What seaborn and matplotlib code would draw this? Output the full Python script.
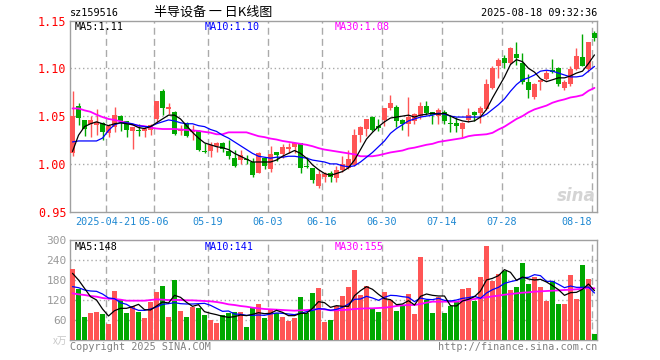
import numpy as np
import pandas as pd
import matplotlib
matplotlib.use("Agg")
import matplotlib.pyplot as plt
import seaborn as sns

# ---------------- data ----------------
holidays = ["2025-05-01", "2025-05-02", "2025-05-05", "2025-06-02"]
dates = pd.bdate_range("2025-04-11", "2025-08-18", freq="C", holidays=holidays)

opens = [1.011, 1.061, 1.046, 1.042, 1.041, 1.043, 1.032, 1.039, 1.050, 1.045,
         1.034, 1.035, 1.034, 1.035, 1.047, 1.076, 1.057, 1.054, 1.034, 1.043,
         1.033, 1.034, 1.014, 1.013, 1.019, 1.022, 1.014, 1.006, 1.004, 1.005,
         1.002, 0.991, 1.006, 0.995, 1.012, 1.010, 1.016, 1.018, 1.022, 0.9975,
         0.996, 0.977, 0.986, 0.991, 0.985, 0.994, 0.996, 0.999, 1.030, 1.036,
         1.049, 1.040, 1.046, 1.058, 1.059, 1.046, 1.042, 1.045, 1.050, 1.061,
         1.054, 1.050, 1.054, 1.043, 1.043, 1.037, 1.046, 1.054, 1.053, 1.057,
         1.079, 1.102, 1.111, 1.106, 1.115, 1.106, 1.086, 1.070, 1.086, 1.089,
         1.098, 1.100, 1.079, 1.084, 1.099, 1.112, 1.099, 1.137]
highs = [1.076, 1.064, 1.046, 1.050, 1.057, 1.044, 1.042, 1.060, 1.051, 1.045,
         1.039, 1.042, 1.040, 1.042, 1.066, 1.078, 1.064, 1.055, 1.041, 1.044,
         1.041, 1.035, 1.022, 1.023, 1.023, 1.023, 1.025, 1.015, 1.015, 1.009,
         1.006, 1.012, 1.007, 1.019, 1.012, 1.021, 1.022, 1.022, 1.022, 1.007,
         0.996, 0.994, 0.992, 0.993, 0.998, 1.008, 1.015, 1.036, 1.040, 1.047,
         1.050, 1.047, 1.058, 1.072, 1.062, 1.047, 1.070, 1.053, 1.065, 1.066,
         1.054, 1.058, 1.056, 1.051, 1.049, 1.044, 1.058, 1.055, 1.061, 1.089,
         1.102, 1.111, 1.114, 1.122, 1.128, 1.116, 1.094, 1.085, 1.088, 1.098,
         1.110, 1.101, 1.088, 1.102, 1.121, 1.136, 1.128, 1.139]
lows = [1.008, 1.041, 1.029, 1.028, 1.030, 1.025, 1.028, 1.033, 1.034, 1.028,
        1.016, 1.029, 1.028, 1.030, 1.044, 1.051, 1.052, 1.030, 1.030, 1.028,
        1.025, 1.014, 1.011, 1.007, 1.012, 1.012, 1.005, 0.997, 1.000, 1.000,
        0.986, 0.990, 0.995, 0.992, 1.003, 1.006, 1.011, 1.011, 0.991, 0.996,
        0.980, 0.975, 0.981, 0.981, 0.981, 0.992, 0.995, 0.998, 1.023, 1.029,
        1.034, 1.034, 1.040, 1.056, 1.039, 1.035, 1.029, 1.042, 1.047, 1.051,
        1.042, 1.042, 1.042, 1.033, 1.033, 1.028, 1.044, 1.045, 1.043, 1.056,
        1.078, 1.090, 1.100, 1.105, 1.103, 1.084, 1.069, 1.068, 1.077, 1.088,
        1.095, 1.082, 1.077, 1.082, 1.098, 1.102, 1.096, 1.129]
closes = [1.050, 1.048, 1.037, 1.046, 1.044, 1.033, 1.040, 1.051, 1.045, 1.035,
          1.039, 1.034, 1.037, 1.041, 1.066, 1.058, 1.059, 1.031, 1.036, 1.029,
          1.035, 1.015, 1.012, 1.020, 1.022, 1.016, 1.008, 0.998, 1.009, 1.004,
          0.988, 1.011, 0.998, 1.010, 1.009, 1.018, 1.018, 1.022, 0.996, 0.9965,
          0.983, 0.989, 0.989, 0.986, 0.994, 1.000, 1.005, 1.030, 1.039, 1.047,
          1.035, 1.038, 1.058, 1.064, 1.045, 1.042, 1.049, 1.052, 1.061, 1.053,
          1.051, 1.056, 1.045, 1.042, 1.040, 1.043, 1.051, 1.051, 1.058, 1.084,
          1.100, 1.109, 1.106, 1.121, 1.111, 1.086, 1.077, 1.084, 1.088, 1.095,
          1.096, 1.084, 1.086, 1.099, 1.113, 1.102, 1.127, 1.132]

ma5 = [1.013, 1.030, 1.039, 1.042, 1.044, 1.042, 1.040, 1.042, 1.043, 1.042,
       1.041, 1.038, 1.037, 1.039, 1.043, 1.047, 1.051, 1.051, 1.047, 1.040,
       1.033, 1.027, 1.022, 1.020, 1.018, 1.017, 1.015, 1.011, 1.008, 1.005,
       1.002, 1.002, 1.002, 1.002, 1.004, 1.008, 1.011, 1.014, 1.011, 1.006,
       0.999, 0.994, 0.990, 0.988, 0.990, 0.992, 0.996, 1.004, 1.015, 1.026,
       1.033, 1.039, 1.044, 1.048, 1.049, 1.050, 1.051, 1.049, 1.051, 1.052,
       1.053, 1.052, 1.053, 1.050, 1.047, 1.045, 1.044, 1.045, 1.049, 1.057,
       1.069, 1.080, 1.091, 1.104, 1.109, 1.107, 1.100, 1.096, 1.089, 1.086,
       1.088, 1.090, 1.090, 1.092, 1.095, 1.097, 1.105, 1.114]
ma10 = [1.023, 1.024, 1.024, 1.024, 1.024, 1.027, 1.035, 1.041, 1.043, 1.043,
        1.042, 1.040, 1.039, 1.039, 1.042, 1.044, 1.046, 1.045, 1.043, 1.042,
        1.042, 1.040, 1.039, 1.036, 1.034, 1.030, 1.027, 1.023, 1.019, 1.015,
        1.011, 1.008, 1.007, 1.006, 1.007, 1.007, 1.008, 1.008, 1.007, 1.006,
        1.004, 1.003, 1.002, 1.000, 1.000, 0.998, 0.997, 0.998, 1.002, 1.007,
        1.012, 1.018, 1.024, 1.032, 1.037, 1.041, 1.045, 1.047, 1.049, 1.050,
        1.051, 1.053, 1.052, 1.050, 1.049, 1.049, 1.049, 1.049, 1.049, 1.052,
        1.057, 1.062, 1.068, 1.076, 1.083, 1.088, 1.090, 1.093, 1.097, 1.098,
        1.097, 1.095, 1.093, 1.091, 1.091, 1.092, 1.097, 1.102]
ma30 = [1.058, 1.058, 1.056, 1.0545, 1.0515, 1.049, 1.047, 1.046, 1.0445, 1.043,
        1.041, 1.040, 1.0395, 1.038, 1.037, 1.0365, 1.0365, 1.0365, 1.036, 1.0355,
        1.035, 1.0345, 1.0335, 1.0327, 1.031, 1.031, 1.033, 1.033, 1.033, 1.033,
        1.031, 1.029, 1.028, 1.0265, 1.0255, 1.024, 1.023, 1.022, 1.021, 1.020,
        1.0185, 1.0165, 1.015, 1.014, 1.013, 1.012, 1.011, 1.010, 1.008, 1.008,
        1.008, 1.009, 1.0105, 1.012, 1.013, 1.014, 1.016, 1.017, 1.0185, 1.020,
        1.021, 1.023, 1.024, 1.025, 1.026, 1.027, 1.029, 1.030, 1.0305, 1.031,
        1.0325, 1.036, 1.039, 1.043, 1.047, 1.050, 1.054, 1.057, 1.059, 1.061,
        1.064, 1.066, 1.0675, 1.0695, 1.0705, 1.072, 1.0765, 1.0795]

volume = [213, 153, 68, 81, 84, 78, 48, 147, 120, 81,
          102, 84, 66, 115, 144, 162, 69, 180, 87, 69,
          99, 96, 75, 60, 51, 75, 81, 84, 84, 39,
          96, 108, 66, 93, 81, 69, 57, 66, 129, 81,
          141, 156, 54, 60, 102, 132, 159, 210, 135, 162,
          93, 85, 144, 120, 88, 102, 138, 78, 250, 120,
          82, 128, 82, 102, 118, 153, 157, 118, 190, 282,
          178, 198, 207, 150, 160, 232, 168, 190, 160, 118,
          178, 108, 108, 196, 124, 226, 184, 18]
vol_ma5 = [200, 180, 155, 130, 120, 93, 72, 88, 95, 95,
           100, 107, 91, 90, 102, 114, 111, 134, 128, 113,
           101, 106, 85, 80, 76, 71, 68, 70, 75, 73,
           77, 82, 79, 80, 89, 83, 73, 73, 80, 80,
           95, 115, 112, 98, 103, 101, 101, 133, 148, 160,
           152, 137, 124, 121, 106, 108, 118, 105, 131, 138,
           134, 132, 132, 103, 102, 117, 122, 130, 147, 180,
           185, 193, 211, 203, 179, 189, 183, 180, 182, 174,
           163, 151, 134, 142, 143, 152, 168, 148]
vol_ma10 = [160, 157, 150, 147, 146, 138, 126, 124, 112, 107,
            96, 89, 89, 93, 99, 107, 109, 112, 109, 108,
            108, 109, 110, 104, 95, 86, 87, 78, 77, 74,
            74, 75, 74, 78, 81, 80, 78, 76, 80, 85,
            89, 94, 93, 89, 92, 98, 108, 122, 123, 131,
            126, 119, 128, 134, 133, 130, 128, 115, 126, 122,
            121, 125, 119, 117, 120, 125, 127, 131, 125, 141,
            151, 158, 170, 175, 179, 187, 188, 196, 193, 176,
            176, 167, 157, 162, 158, 158, 159, 141]
vol_ma30 = [140, 137, 135, 132, 130, 126, 124, 123, 121, 118,
            118, 118, 118, 120, 122, 121, 120, 120, 120, 119,
            119, 118, 117, 116, 114, 111, 107, 105, 102, 100,
            97, 95, 93, 92, 91, 90, 89, 88, 89, 90,
            91, 93, 92, 89, 89, 90, 91, 93, 94, 95,
            95, 96, 97, 99, 102, 104, 105, 105, 108, 112,
            115, 115, 115, 115, 115, 117, 121, 123, 126, 128,
            131, 133, 136, 138, 140, 142, 143, 145, 146, 147,
            148, 149, 150, 151, 152, 154, 156, 155]

tick_dates = ["2025-04-21", "2025-05-06", "2025-05-19", "2025-06-03", "2025-06-16",
              "2025-06-30", "2025-07-14", "2025-07-28", "2025-08-18"]
tick_labels = ["2025-04-21", "05-06", "05-19", "06-03", "06-16",
               "06-30", "07-14", "07-28", "08-18"]
price_ticks = [0.95, 1.00, 1.05, 1.10, 1.15]
vol_ticks = [60, 120, 180, 240, 300]

# ---------------- styling ----------------
UP, DOWN = "#ff5555", "#00a800"
FRAME = "#a0a0a0"
GRID = "#aaaaaa"
MONO = ["DejaVu Sans Mono", "Noto Sans CJK SC"]

sns.set_theme(style="white")
plt.rcParams["font.family"] = MONO

df = pd.DataFrame({"date": dates, "open": opens, "high": highs, "low": lows,
                   "close": closes, "ma5": ma5, "ma10": ma10, "ma30": ma30,
                   "vol": volume, "vma5": vol_ma5, "vma10": vol_ma10, "vma30": vol_ma30})
df["x"] = np.arange(len(df))
df["dir"] = np.where(df["close"] >= df["open"], "up", "down")
colors = np.where(df["dir"] == "up", UP, DOWN)

W, H = 660, 360
fig = plt.figure(figsize=(W / 100, H / 100), dpi=100)
fig.patch.set_facecolor("white")

def frac(x0, y0, x1, y1):
    return [x0 / W, 1 - y1 / H, (x1 - x0) / W, (y1 - y0) / H]

axp = fig.add_axes(frac(70, 20.5, 597, 211.7))
axv = fig.add_axes(frac(70, 240, 597, 340))

grid_pos = [dates.get_loc(pd.Timestamp(d)) - 0.42 for d in tick_dates]
xlim = (-0.42, len(df) - 0.58)

# --- candles ---
body_lo = np.minimum(df["open"], df["close"])
body_h = np.maximum(np.abs(df["close"] - df["open"]), 0.0009)
axp.vlines(df["x"], df["low"], df["high"], colors=colors, lw=1.0, zorder=2)
axp.bar(df["x"], body_h, bottom=body_lo, width=0.8, color=colors, lw=0, zorder=3)

sns.lineplot(data=df, x="x", y="ma30", ax=axp, color="#ff00ff", lw=1.3, zorder=4)
sns.lineplot(data=df, x="x", y="ma10", ax=axp, color="#0000ff", lw=0.9, zorder=5)
sns.lineplot(data=df, x="x", y="ma5", ax=axp, color="black", lw=0.9, zorder=6)

axp.set_xlim(*xlim)
axp.set_ylim(0.95, 1.15)

# --- volume ---
sns.barplot(data=df, x="x", y="vol", hue="dir", palette={"up": UP, "down": DOWN},
            native_scale=True, width=0.8, dodge=False, saturation=1, legend=False,
            errorbar=None, ax=axv, zorder=3, linewidth=0)
sns.lineplot(data=df, x="x", y="vma30", ax=axv, color="#ff00ff", lw=1.3, zorder=4)
sns.lineplot(data=df, x="x", y="vma10", ax=axv, color="#0000ff", lw=0.9, zorder=5)
sns.lineplot(data=df, x="x", y="vma5", ax=axv, color="black", lw=0.9, zorder=6)
axv.set_xlim(*xlim)
axv.set_ylim(0, 300)

for ax in (axp, axv):
    ax.set_xlabel("")
    ax.set_ylabel("")
    for s in ax.spines.values():
        s.set_color(FRAME)
        s.set_linewidth(1.0)
        s.set_visible(True)
    ax.set_facecolor("white")
    for gx in grid_pos:
        ax.axvline(gx, color=GRID, lw=1.0, ls=(0, (5, 3)), zorder=1)

for y in price_ticks[1:-1]:
    axp.axhline(y, color=GRID, lw=1.0, ls=(0, (1, 2)), zorder=1)
for y in vol_ticks[:-1]:
    axv.axhline(y, color=GRID, lw=1.0, ls=(0, (1, 2)), zorder=1)

axp.set_yticks(price_ticks)
axp.set_yticklabels([f"{v:.2f}" for v in price_ticks])
axp.tick_params(axis="y", length=0, pad=2.5, labelcolor="#ff0000", labelsize=8.5)
axp.set_xticks(grid_pos)
axp.set_xticklabels(tick_labels)
axp.tick_params(axis="x", length=0, pad=3.5, labelcolor="#1e88d2", labelsize=7.3)
lbls = axp.get_xticklabels()
lbls[-1].set_ha("right")

axv.set_yticks(vol_ticks)
axv.set_yticklabels([str(v) for v in vol_ticks])
axv.tick_params(axis="y", length=0, pad=2.5, labelcolor="#999999", labelsize=8.0)
axv.set_xticks([])

# --- texts ---
def ftext(x, y, s, **kw):
    fig.text(x / W, 1 - y / H, s, va="center", **kw)

ftext(70, 12.5, "sz159516", ha="left", fontsize=7.3, color="black")
ftext(213, 12.5, "半导设备 一 日K线图", ha="center", fontsize=9.4, color="black",
      family=["Noto Sans CJK SC", "DejaVu Sans"])
ftext(597, 12.5, "2025-08-18 09:32:36", ha="right", fontsize=7.3, color="black")

ftext(75, 27, f"MA5:{ma5[-1]:.2f}", ha="left", fontsize=7.3, color="black")
ftext(205, 27, f"MA10:{ma10[-1]:.2f}", ha="left", fontsize=7.3, color="#0000ff")
ftext(335, 27, f"MA30:{ma30[-1]:.2f}", ha="left", fontsize=7.3, color="#ff00ff")

ftext(75, 247, f"MA5:{vol_ma5[-1]}", ha="left", fontsize=7.3, color="black")
ftext(205, 247, f"MA10:{vol_ma10[-1]}", ha="left", fontsize=7.3, color="#0000ff")
ftext(335, 247, f"MA30:{vol_ma30[-1]}", ha="left", fontsize=7.3, color="#ff00ff")

ftext(67, 341, "x万", ha="right", fontsize=7.0, color="#c8c8c8",
      family=["Noto Sans CJK SC", "DejaVu Sans"])
ftext(70, 347, "Copyright 2025 SINA.COM", ha="left", fontsize=7.3, color="#808080")
ftext(597, 347, "http://finance.sina.com.cn", ha="right", fontsize=7.3, color="#808080")

# sina watermark
ftext(596, 196, "sina", ha="right", fontsize=12, color="#d4d4d4", style="italic",
      weight="bold", family=["DejaVu Sans"])

fig.savefig("out.png", dpi=100, facecolor="white")
